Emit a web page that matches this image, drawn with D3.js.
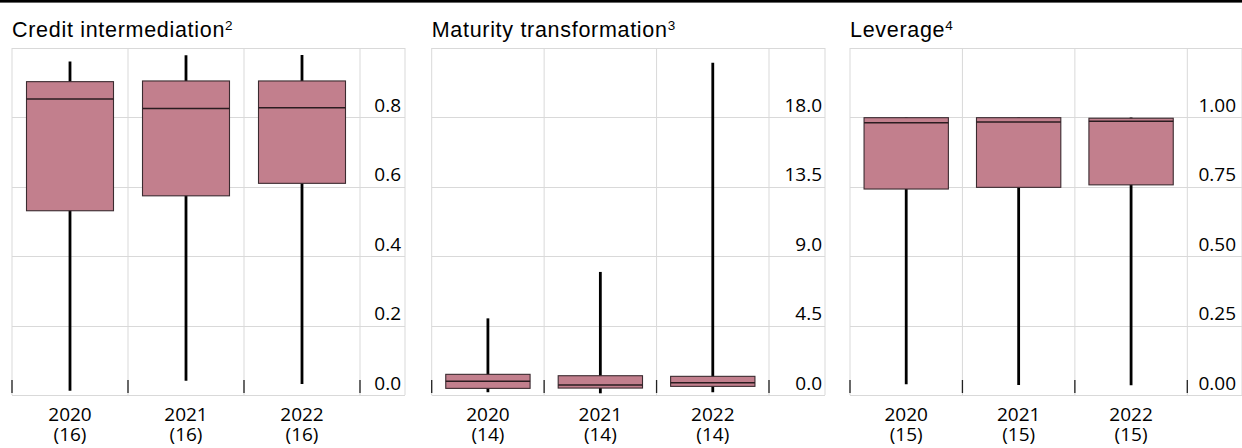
<!DOCTYPE html>
<html>
<head>
<meta charset="utf-8">
<script src="https://cdn.jsdelivr.net/npm/d3@7"></script>
<style>
  html, body { margin: 0; padding: 0; background: #ffffff; }
  svg { display: block; }
</style>
</head>
<body>
<svg id="chart" width="1242" height="448"></svg>
<script>
// ---------------- data ----------------
const categories = ["2020", "2021", "2022"];

const creditCounts = [16, 16, 16];
const creditMin = [0.012, 0.041, 0.032];
const creditQ1 = [0.531, 0.574, 0.610];
const creditMedian = [0.853, 0.826, 0.828];
const creditQ3 = [0.903, 0.905, 0.905];
const creditMax = [0.961, 0.979, 0.980];
const creditTicks = [0, 0.2, 0.4, 0.6, 0.8];

const maturityCounts = [14, 14, 14];
const maturityMin = [0.18, 0.11, 0.18];
const maturityQ1 = [0.43, 0.45, 0.56];
const maturityMedian = [0.89, 0.65, 0.80];
const maturityQ3 = [1.34, 1.25, 1.21];
const maturityMax = [4.97, 7.98, 21.55];
const maturityTicks = [0, 4.5, 9, 13.5, 18];

const leverageCounts = [15, 15, 15];
const leverageMin = [0.0385, 0.036, 0.035];
const leverageQ1 = [0.742, 0.748, 0.757];
const leverageMedian = [0.981, 0.983, 0.986];
const leverageQ3 = [0.999, 0.999, 0.997];
const leverageMax = [1.0, 1.0, 1.0];
const leverageTicks = [0, 0.25, 0.5, 0.75, 1.0];

const titles = ["Credit intermediation", "Maturity transformation", "Leverage"];
const footnotes = ["2", "3", "4"];

// ---------------- layout ----------------
const svg = d3.select("#chart");
const W = 1242;
const plotTop = 48, plotBottom = 395;
const gridColor = "#d9d9d9";
const boxFill = "#c27f8d";
const boxStroke = "#3b2b30";
const tickFont = "'Open Sans', 'Noto Sans', sans-serif";
const titleFont = "'Liberation Sans', Arial, sans-serif";

// top rule
svg.append("rect").attr("x", 0).attr("y", 0).attr("width", W).attr("height", 2.6).attr("fill", "#000");

const panels = [
  { left: 12, bandsRight: 360, right: 405, labelX: 401, domainMax: 1.0, ticks: creditTicks, fmt: d3.format(".1f"),
    counts: creditCounts, min: creditMin, q1: creditQ1, med: creditMedian, q3: creditQ3, max: creditMax },
  { left: 431.7, bandsRight: 769, right: 825, labelX: 822, domainMax: 22.5, ticks: maturityTicks, fmt: d3.format(".1f"),
    counts: maturityCounts, min: maturityMin, q1: maturityQ1, med: maturityMedian, q3: maturityQ3, max: maturityMax },
  { left: 850, bandsRight: 1187.3, right: 1242, labelX: 1236, domainMax: 1.25, ticks: leverageTicks, fmt: d3.format(".2f"),
    counts: leverageCounts, min: leverageMin, q1: leverageQ1, med: leverageMedian, q3: leverageQ3, max: leverageMax }
];

panels.forEach((p, pi) => {
  const g = svg.append("g");
  const x = d3.scaleBand().domain(categories).range([p.left, p.bandsRight])
    .paddingInner(0.25).paddingOuter(0.125);
  const y = d3.scaleLinear().domain([0, p.domainMax]).range([plotBottom, plotTop]);
  const step = x.step();
  const x0 = x.range()[0];

  // title
  const t = g.append("text")
    .attr("x", p.left).attr("y", 37.3)
    .attr("font-family", titleFont).attr("font-size", 21.5)
    .attr("letter-spacing", "0.7px")
    .attr("fill", "#000")
    .text(titles[pi]);
  t.append("tspan").attr("font-size", 13.5).attr("dy", -7).attr("letter-spacing", "0px").text(footnotes[pi]);

  // horizontal gridlines (ticks + top + bottom)
  const hVals = [0].concat(p.ticks.filter(v => v > 0)).concat([p.domainMax]);
  g.selectAll(".hgrid").data(hVals).enter().append("line")
    .attr("x1", p.left).attr("x2", p.right)
    .attr("y1", d => Math.round(y(d)) + 0.5).attr("y2", d => Math.round(y(d)) + 0.5)
    .attr("stroke", gridColor).attr("stroke-width", 1);

  // vertical gridlines at band boundaries + right edge
  const bounds = d3.range(categories.length + 1).map(i => x0 + i * step);
  g.selectAll(".vgrid").data(bounds.concat([p.right])).enter().append("line")
    .attr("x1", d => d).attr("x2", d => d)
    .attr("y1", plotTop).attr("y2", plotBottom)
    .attr("stroke", gridColor).attr("stroke-width", 1);

  // x tick marks at band boundaries
  g.selectAll(".xtick").data(bounds).enter().append("line")
    .attr("x1", d => d).attr("x2", d => d)
    .attr("y1", plotBottom - 15).attr("y2", plotBottom - 2)
    .attr("stroke", "#222").attr("stroke-width", 1.3);

  // y axis labels via d3 axis
  const yAxis = d3.axisLeft(y).tickValues(p.ticks).tickFormat(p.fmt).tickSize(0).tickPadding(0);
  const ag = g.append("g").attr("transform", `translate(${p.labelX},0)`).call(yAxis);
  ag.select(".domain").remove();
  ag.selectAll("text")
    .attr("font-family", tickFont).attr("font-size", 19)
    .attr("fill", "#000").attr("dy", -6).attr("text-anchor", "end");

  // x labels (two lines)
  const cx = d => x(d) + x.bandwidth() / 2;
  g.selectAll(".xlab1").data(categories).enter().append("text")
    .attr("x", cx).attr("y", 421)
    .attr("text-anchor", "middle")
    .attr("font-family", tickFont).attr("font-size", 19).attr("fill", "#000")
    .text(d => d);
  g.selectAll(".xlab2").data(categories).enter().append("text")
    .attr("x", cx).attr("y", 440.5)
    .attr("text-anchor", "middle")
    .attr("font-family", tickFont).attr("font-size", 19).attr("fill", "#000")
    .text((d, i) => "(" + p.counts[i] + ")");

  // boxes
  const rows = categories.map((c, i) => ({ c, min: p.min[i], q1: p.q1[i], med: p.med[i], q3: p.q3[i], max: p.max[i] }));
  const bg = g.selectAll(".box").data(rows).enter().append("g");
  bg.append("line")
    .attr("x1", d => cx(d.c)).attr("x2", d => cx(d.c))
    .attr("y1", d => y(d.min)).attr("y2", d => y(d.max))
    .attr("stroke", "#000").attr("stroke-width", 2.8);
  bg.append("rect")
    .attr("x", d => x(d.c)).attr("width", x.bandwidth())
    .attr("y", d => y(d.q3)).attr("height", d => y(d.q1) - y(d.q3))
    .attr("fill", boxFill).attr("stroke", boxStroke).attr("stroke-width", 1.1);
  bg.append("line")
    .attr("x1", d => x(d.c)).attr("x2", d => x(d.c) + x.bandwidth())
    .attr("y1", d => y(d.med)).attr("y2", d => y(d.med))
    .attr("stroke", "#2a1c20").attr("stroke-width", 1.5);
});
</script>
</body>
</html>
